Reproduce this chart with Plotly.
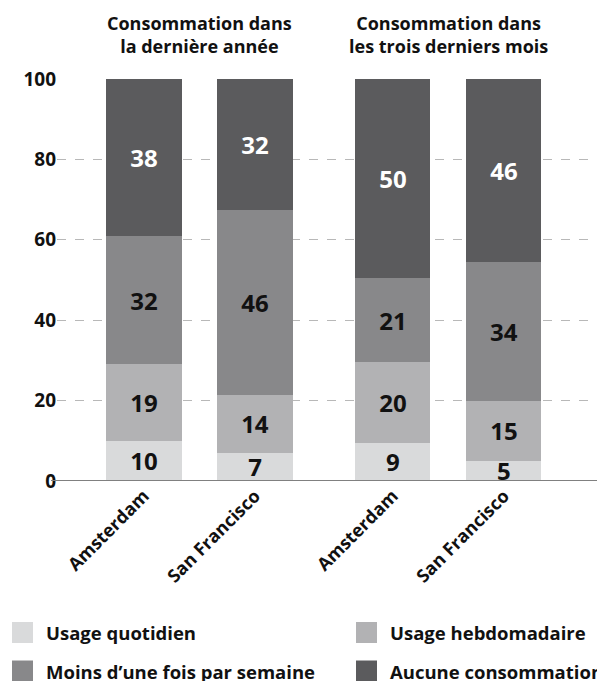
import plotly.graph_objects as go

# ---- data ----
cities = ["Amsterdam", "San Francisco", "Amsterdam", "San Francisco"]
periods = ["Consommation dans<br>la dernière année", "Consommation dans<br>les trois derniers mois"]
series_names = ["Usage quotidien", "Usage hebdomadaire", "Moins d’une fois par semaine", "Aucune consommation"]
quotidien = [10, 7, 9.5, 5]
hebdomadaire = [19, 14.5, 20, 15]
moins = [32, 46, 21, 34.5]
aucune = [39, 32.5, 49.5, 45.5]
labels_quotidien = ["10", "7", "9", "5"]
labels_hebdomadaire = ["19", "14", "20", "15"]
labels_moins = ["32", "46", "21", "34"]
labels_aucune = ["38", "32", "50", "46"]
y_ticks = [0, 20, 40, 60, 80, 100]

# ---- style ----
colors = ["#d9dadb", "#b2b2b4", "#88888a", "#5b5b5d"]
text_colors = ["#111111", "#111111", "#111111", "#ffffff"]
FONT = "Open Sans"
W, H = 597, 681
ML, MR, MT, MB = 57, 0, 79, 200
group_gap = 0.243
xpos = [0, 1, 2 + group_gap, 3 + group_gap]

plot_h = H - MT - MB
def py(pix):  # pixel y (from top) -> paper y
    return (H - MB - pix) / plot_h
plot_w = W - ML - MR
def px(pix):
    return (pix - ML) / plot_w

fig = go.Figure()
for name, vals, labs, c, tc in zip(series_names,
                                    [quotidien, hebdomadaire, moins, aucune],
                                    [labels_quotidien, labels_hebdomadaire, labels_moins, labels_aucune],
                                    colors, text_colors):
    fig.add_trace(go.Bar(
        x=xpos, y=vals, name=name, marker=dict(color=c, line=dict(width=0)),
        width=0.676, text=labs, textposition="inside", insidetextanchor="middle",
        constraintext="none", textangle=0,
        textfont=dict(family=FONT, size=24, color=tc, weight="bold"),
        showlegend=False, hoverinfo="skip",
    ))

fig.update_layout(
    barmode="stack", width=W, height=H,
    margin=dict(l=ML, r=MR, t=MT, b=MB),
    plot_bgcolor="white", paper_bgcolor="white",
    font=dict(family=FONT, color="#111111"),
)
fig.update_yaxes(range=[0, 100], tickvals=y_ticks, showgrid=True,
                 gridcolor="#b8b8b8", griddash="dash", gridwidth=1,
                 zeroline=False, showline=False, ticklabelstandoff=0,
                 tickfont=dict(family=FONT, size=19, weight="bold", color="#111111"))
fig.update_xaxes(range=[-87/111, (plot_w - 87)/111], tickvals=xpos, ticktext=cities,
                 tickangle=-45, showgrid=False, zeroline=False, showline=False,
                 tickfont=dict(family=FONT, size=18, weight="bold", color="#111111"))

# zero axis line
fig.add_shape(type="line", xref="paper", yref="y", x0=px(51), x1=1, y0=0, y1=0,
              line=dict(color="#808080", width=2), layer="above")

# group titles
for i, t in enumerate(periods):
    fig.add_annotation(x=(xpos[2*i] + xpos[2*i+1]) / 2, xref="x", y=py(34.5), yref="paper",
                       text=t, showarrow=False, yanchor="middle",
                       font=dict(family=FONT, size=18, weight="bold", color="#111111"))

# legend
leg_pos = [(12, 632.5), (356, 632.5), (12, 671), (356, 671)]
for (lx, ly), name, c in zip(leg_pos, series_names, colors):
    fig.add_shape(type="rect", xref="paper", yref="paper",
                  x0=px(lx), x1=px(lx + 21), y0=py(ly + 10.5), y1=py(ly - 10.5),
                  fillcolor=c, line=dict(width=0))
    fig.add_annotation(x=px(lx + 32), y=py(ly), xref="paper", yref="paper",
                       xanchor="left", yanchor="middle", text=name, showarrow=False,
                       font=dict(family=FONT, size=18.5, weight="bold", color="#111111"))

fig.write_html("out.html", config={"displayModeBar": False},
               post_script="document.body.style.margin='0';")
